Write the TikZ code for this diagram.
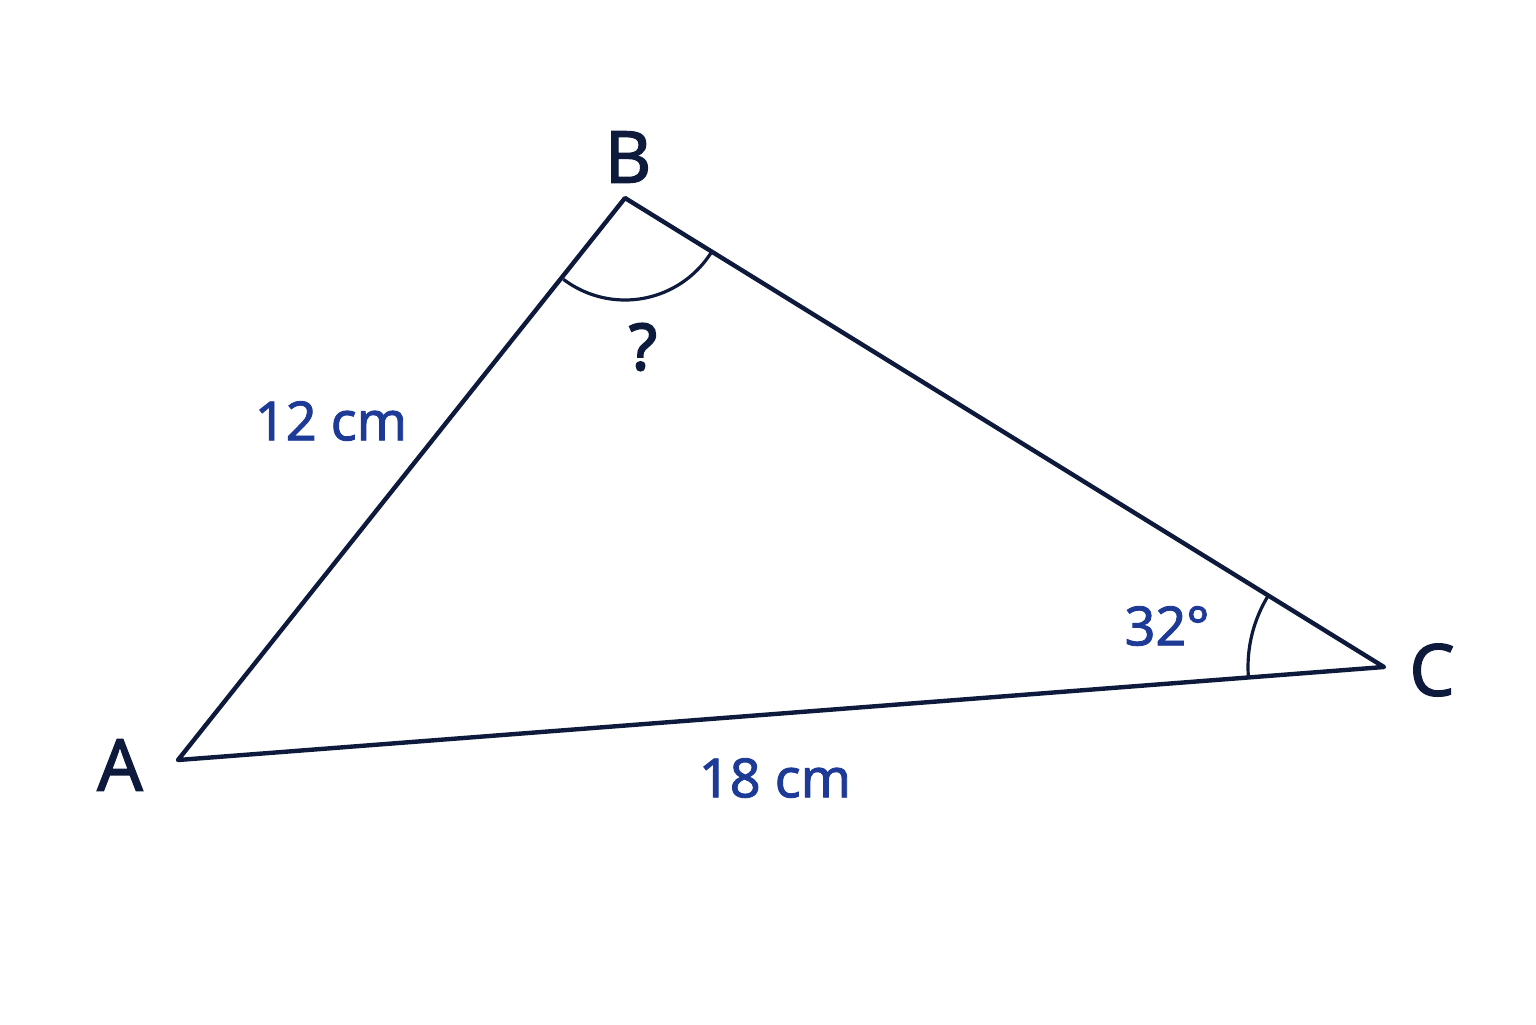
\documentclass[tikz,border=0pt]{standalone}
\usepackage{fontspec}
\setmainfont{Noto Sans}
\newfontfamily\medfont[FakeBold=1.6]{Noto Sans}
\newfontfamily\heavyfont[FakeBold=3]{Noto Sans}
\definecolor{navy}{HTML}{0E1A3C}
\definecolor{lblue}{HTML}{1C3A96}
\begin{document}
\begin{tikzpicture}[x=0.5pt,y=-0.5pt,
  side/.style={draw=navy,line width=2.2pt,line join=round,line cap=round},
  anglearc/.style={draw=navy,line width=1.6pt},
  vlabel/.style={text=navy,font=\medfont\fontsize{36}{40}\selectfont,inner sep=0pt},
  mlabel/.style={text=lblue,font=\medfont\fontsize{27}{30}\selectfont,inner sep=0pt},
  qlabel/.style={text=navy,font=\heavyfont\fontsize{32}{36}\selectfont,inner sep=0pt}]
\useasboundingbox (0,0) rectangle (1536,1024);
\coordinate (A) at (178,760);
\coordinate (B) at (625,198);
\coordinate (C) at (1384,667);
\draw[side] (A) -- (B) -- (C) -- cycle;
\draw[anglearc] (B) ++(232.9:51pt) arc[start angle=232.9,end angle=328.6,radius=51pt];
\draw[anglearc] (C) ++(148.3:68pt) arc[start angle=148.3,end angle=184.4,radius=68pt];
\node[vlabel] (lA) at (120,765) {A};
\node[vlabel] (lB) at (628,157) {B};
\node[vlabel] (lC) at (1432,670) {C};
\node[qlabel] (q) at (643,347) {?};
\node[mlabel] (ab) at (331,421) {12 cm};
\node[mlabel] (ac) at (775,778) {18 cm};
\node[mlabel] (ang) at (1167,626) {32°};
\end{tikzpicture}
\end{document}
